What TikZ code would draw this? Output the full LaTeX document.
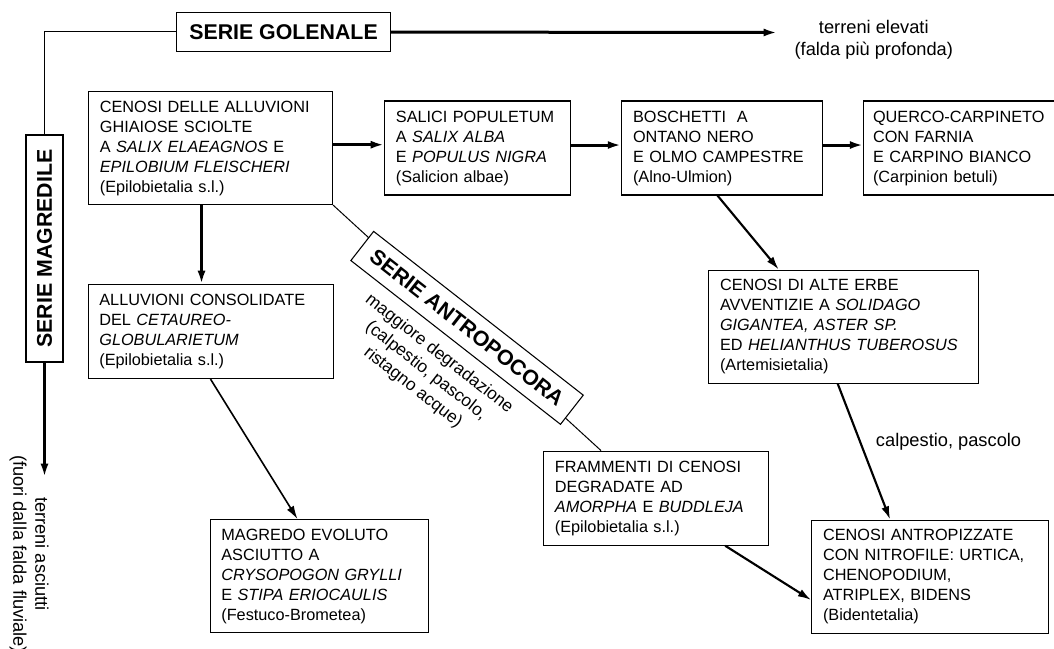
\documentclass[tikz,border=0pt]{standalone}
\usepackage{fontspec}
\setmainfont{Liberation Sans}
\usetikzlibrary{arrows.meta,positioning}

\begin{document}
\begin{tikzpicture}[x=0.75pt,y=-0.75pt,>={Latex[length=10pt,width=6pt]},
  stadio/.style={rectangle,draw,line width=0.8pt,align=left,inner xsep=8.5pt,inner ysep=2pt,font=\fontsize{12.2}{15}\selectfont},
  serie/.style={rectangle,draw,line width=0.8pt,inner sep=0pt,font=\fontsize{16}{18}\selectfont\bfseries},
  nota/.style={align=center,inner sep=0pt,font=\fontsize{13.7}{16.5}\selectfont},
  forte/.style={->,line width=2.25pt},
  medio/.style={->,line width=1.6pt},
  sottile/.style={line width=0.75pt}]
\useasboundingbox (0,0) rectangle (1054,649);

\node (c1) [stadio,anchor=north west,text width=166pt,minimum height=84.75pt] at (88,91) {CENOSI DELLE ALLUVIONI\\ GHIAIOSE SCIOLTE\\ A \textit{SALIX ELAEAGNOS} E\\ \textit{EPILOBIUM FLEISCHERI}\\ (Epilobietalia s.l.)};
\node (c2) [stadio,right=38.25pt of c1,text width=122.5pt,minimum height=70.5pt] {SALICI POPULETUM\\ A \textit{SALIX ALBA}\\ E \textit{POPULUS NIGRA}\\ (Salicion albae)};
\node (c3) [stadio,right=37.5pt of c2,text width=133.75pt,minimum height=70.5pt] {BOSCHETTI\ \ A\\ ONTANO NERO\\ E OLMO CAMPESTRE\\ (Alno-Ulmion)};
\node (c4) [stadio,right=30pt of c3,text width=130.75pt,inner xsep=7pt,minimum height=70.5pt] {QUERCO-CARPINETO\\ CON FARNIA\\ E CARPINO BIANCO\\ (Carpinion betuli)};

\node (c5) [stadio,below=59.25pt of c1,text width=166.75pt,minimum height=70.5pt] {ALLUVIONI CONSOLIDATE\\ DEL \textit{CETAUREO-}\\ \textit{GLOBULARIETUM}\\ (Epilobietalia s.l.)};
\node (c6) [stadio,below right=55.5pt and 65.25pt of c3.south west,text width=185.5pt,minimum height=84.75pt] {CENOSI DI ALTE ERBE\\ AVVENTIZIE A \textit{SOLIDAGO}\\ \textit{GIGANTEA, ASTER SP.}\\ ED \textit{HELIANTHUS TUBEROSUS}\\ (Artemisietalia)};
\node (c9) [stadio,below right=102pt and 77.25pt of c6.south west,text width=160.75pt,minimum height=84.75pt] {CENOSI ANTROPIZZATE\\ CON NITROFILE: URTICA,\\ CHENOPODIUM,\\ ATRIPLEX, BIDENS\\ (Bidentetalia)};
\node (c7) [stadio,above left=66pt and 31.5pt of c9.south west,text width=151.75pt,minimum height=70.5pt] {FRAMMENTI DI CENOSI\\ DEGRADATE AD\\ \textit{AMORPHA} E \textit{BUDDLEJA}\\ (Epilobietalia s.l.)};
\node (c8) [stadio,below right=105pt and 91.5pt of c5.south west,text width=146.5pt,minimum height=84.75pt] {MAGREDO EVOLUTO\\ ASCIUTTO A\\ \textit{CRYSOPOGON GRYLLI}\\ E \textit{STIPA ERIOCAULIS}\\ (Festuco-Brometea)};

\node (golenale) [serie,above right=29.25pt and 66pt of c1.north west,minimum width=160.5pt,minimum height=29.25pt] {SERIE GOLENALE};
\node (magredile) [serie,rotate=90,minimum width=170.25pt,minimum height=27.75pt] at (44.5,248.5) {SERIE MAGREDILE};

\coordinate (elevati) at (777,32.5);
\coordinate (asciutti) at (44.5,477);
\node (elevatinota) [nota,right=13pt of elevati,yshift=-5.5pt] {terreni elevati\\ (falda più profonda)};
\node (asciuttinota) [nota,rotate=-90] at (29,554) {terreni asciutti\\ (fuori dalla falda fluviale)};

\draw[forte] (golenale) -- (elevati);
\draw[sottile] (golenale.west) -| (magredile.east);
\draw[forte] (magredile.west) -- (asciutti);

\draw[forte] ([yshift=2.5pt]c1.east) -- ([yshift=2.5pt]c1.east -| c2.west);
\draw[forte] ([yshift=2.25pt]c2.east) -- ([yshift=2.25pt]c2.east -| c3.west);
\draw[forte] ([yshift=2.25pt]c3.east) -- ([yshift=2.25pt]c3.east -| c4.west);
\draw[forte] ([xshift=-6.75pt]c1.south) -- ([xshift=-6.75pt]c1.south |- c5.north);
\draw[medio] ([xshift=-3.5pt]c3.south) -- ([xshift=53pt]c6.north west);
\draw[medio,line width=1.2pt] (c5.south) -- ([xshift=66pt]c8.north west);
\draw[medio] ([xshift=-4.5pt]c6.south) -- node[nota,pos=0.43,right=11pt] (calpestio) {calpestio, pascolo} ([xshift=59.25pt]c9.north west);
\draw[medio] ([xshift=-33pt]c7.south east) -- ([yshift=-17.5pt]c9.west);

\draw[sottile] (c1.south east) -- node[serie,fill=white,rotate=-38,minimum width=199.5pt,minimum height=27.75pt] (antropocora) {SERIE ANTROPOCORA} ([xshift=43.5pt]c7.north west);
\node (degrado) [nota,rotate=-38,font=\fontsize{13}{16}\selectfont] at (426,371) {maggiore degradazione\\ (calpestio, pascolo,\\ ristagno acque)};
\end{tikzpicture}
\end{document}
